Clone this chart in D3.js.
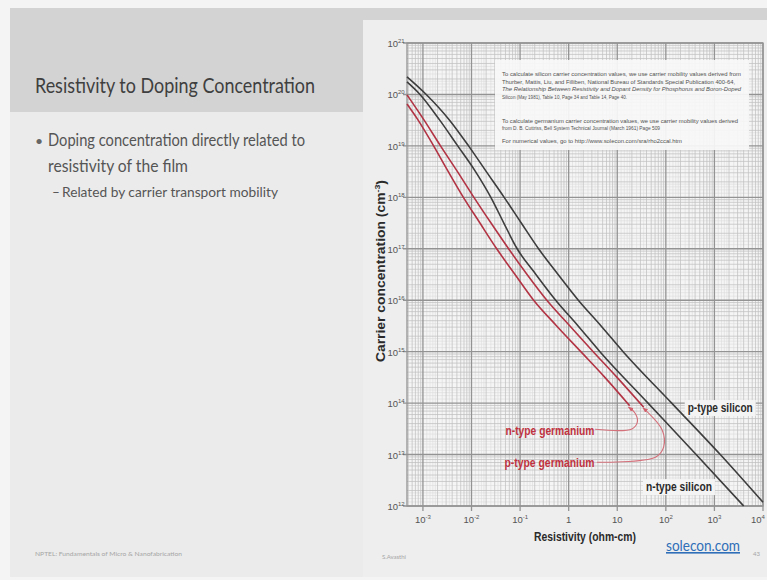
<!DOCTYPE html>
<html>
<head>
<meta charset="utf-8">
<script src="https://cdn.jsdelivr.net/npm/d3@7"></script>
<style>
  html, body { margin: 0; padding: 0; background: #f4f4f4; }
  svg { display: block; }
</style>
</head>
<body>
<div id="slide"></div>
<script>
// Resistivity vs carrier concentration (log-log)

// resistivity in ohm-cm, concentration in cm^-3
const pSiRho = [4.7e-4, 1.17e-3, 3.5e-3, 8.7e-3, 2.0e-2, 4.7e-2, 0.105, 0.24, 0.6, 1.58, 4.6, 13.2, 132, 1320, 1e4];
const pSiConc = [2.2e20, 1e20, 3.2e19, 1e19, 3.2e18, 1e18, 3.2e17, 1e17, 3.2e16, 1e16, 3.2e15, 1e15, 1e14, 1e13, 1.18e12];

const nSiRho = [4.7e-4, 8.7e-4, 2.2e-3, 5.2e-3, 1.2e-2, 2.5e-2, 4.6e-2, 8.7e-2, 0.21, 0.54, 1.55, 4.4, 43, 420, 4000];
const nSiConc = [1.75e20, 1e20, 3.2e19, 1e19, 3.2e18, 1e18, 3.2e17, 1e17, 3.2e16, 1e16, 3.2e15, 1e15, 1e14, 1e13, 1e12];

const pGeRho = [4.7e-4, 1.05e-3, 2.3e-3, 5.1e-3, 1.12e-2, 2.5e-2, 5.8e-2, 0.138, 0.355, 1.05, 3.2, 9.8, 35];
const pGeConc = [9.8e19, 3.2e19, 1e19, 3.2e18, 1e18, 3.2e17, 1e17, 3.2e16, 1e16, 3.2e15, 1e15, 3.2e14, 8.3e13];

const nGeRho = [4.7e-4, 7.9e-4, 1.66e-3, 3.3e-3, 6.8e-3, 1.48e-2, 3.3e-2, 7.8e-2, 0.19, 0.56, 1.78, 5.5, 18];
const nGeConc = [6.5e19, 3.2e19, 1e19, 3.2e18, 1e18, 3.2e17, 1e17, 3.2e16, 1e16, 3.2e15, 1e15, 3.2e14, 8.9e13];

// leader lines from the germanium labels to the curve ends
const nGeLeaderRho = [3.5, 20, 26, 23.5, 17];
const nGeLeaderConc = [3.1e13, 3.15e13, 4.3e13, 6.3e13, 8.4e13];
const pGeLeaderRho = [3.8, 61, 90, 84, 34];
const pGeLeaderConc = [7.1e12, 8.9e12, 1.4e13, 3e13, 8.1e13];

const xTickValues = [1e-3, 1e-2, 1e-1, 1, 10, 1e2, 1e3, 1e4];
const xTickBase = ['10', '10', '10', '1', '10', '10', '10', '10'];
const xTickExp = ['-3', '-2', '-1', '', '', '2', '3', '4'];
const yTickExp = [12, 13, 14, 15, 16, 17, 18, 19, 20, 21];

const noteLines = [
  'To calculate silicon carrier concentration values, we use carrier mobility values derived from',
  'Thurber, Mattis, Liu, and Filliben, National Bureau of Standards Special Publication 400-64,',
  'The Relationship Between Resistivity and Dopant Density for Phosphorus and Boron-Doped',
  'Silicon (May 1981), Table 10, Page 34 and Table 14, Page 40.',
  'To calculate germanium carrier concentration values, we use carrier mobility values derived',
  'from D. B. Cuttriss, Bell System Technical Journal (March 1961) Page 509',
  'For numerical values, go to http://www.solecon.com/sra/rho2ccal.htm'
];

const width = 767, height = 580;

const svg = d3.select('#slide')
  .append('svg')
  .attr('width', width)
  .attr('height', height);

// slide background
svg.append('rect').attr('x', 10).attr('y', 8).attr('width', 757).attr('height', 569).attr('fill', '#ebebeb');
svg.append('rect').attr('x', 10).attr('y', 8).attr('width', 757).attr('height', 104).attr('fill', '#d3d3d3');
svg.append('rect').attr('x', 363).attr('y', 20).attr('width', 404).attr('height', 557).attr('fill', '#eeeeee');

// slide text
const textFont = 'Lato, "Open Sans", sans-serif';
svg.append('text')
  .attr('x', 35).attr('y', 93)
  .attr('font-family', textFont).attr('font-size', 22)
  .attr('fill', '#3f3f3f')
  .attr('textLength', 280).attr('lengthAdjust', 'spacingAndGlyphs')
  .text('Resistivity to Doping Concentration');

svg.append('text').attr('x', 35).attr('y', 146)
  .attr('font-family', textFont).attr('font-size', 14).attr('fill', '#666').text('•');
svg.append('text')
  .attr('x', 48).attr('y', 146)
  .attr('font-family', textFont).attr('font-size', 16.5).attr('fill', '#555')
  .attr('textLength', 257).attr('lengthAdjust', 'spacingAndGlyphs')
  .text('Doping concentration directly related to');
svg.append('text')
  .attr('x', 48).attr('y', 172)
  .attr('font-family', textFont).attr('font-size', 16.5).attr('fill', '#555')
  .attr('textLength', 140).attr('lengthAdjust', 'spacingAndGlyphs')
  .text('resistivity of the film');
svg.append('text')
  .attr('x', 52).attr('y', 197)
  .attr('font-family', textFont).attr('font-size', 13.5).attr('fill', '#555')
  .text('–');
svg.append('text')
  .attr('x', 62).attr('y', 197)
  .attr('font-family', textFont).attr('font-size', 13.5).attr('fill', '#555')
  .attr('textLength', 216).attr('lengthAdjust', 'spacingAndGlyphs')
  .text('Related by carrier transport mobility');

// footer
svg.append('text').attr('x', 35).attr('y', 556)
  .attr('font-family', textFont).attr('font-size', 6).attr('fill', '#a5a5a5')
  .attr('textLength', 147).attr('lengthAdjust', 'spacingAndGlyphs')
  .text('NPTEL: Fundamentals of Micro & Nanofabrication');
svg.append('text').attr('x', 382).attr('y', 559)
  .attr('font-family', textFont).attr('font-size', 6).attr('fill', '#a5a5a5')
  .text('S.Avasthi');
svg.append('text').attr('x', 760).attr('y', 556).attr('text-anchor', 'end')
  .attr('font-family', textFont).attr('font-size', 6).attr('fill', '#a5a5a5')
  .text('43');

// chart
const plot = { left: 407, right: 763, top: 43, bottom: 506 };

const x = d3.scaleLog()
  .domain([4.7e-4, 1e4])
  .range([plot.left, plot.right]);

const y = d3.scaleLog()
  .domain([1e12, 1e21])
  .range([plot.bottom, plot.top]);

const g = svg.append('g');

g.append('rect')
  .attr('x', plot.left).attr('y', plot.top)
  .attr('width', plot.right - plot.left).attr('height', plot.bottom - plot.top)
  .attr('fill', '#f5f5f5');

// grid: sub-minor, minor, major
const subMult = [1.2, 1.4, 1.6, 1.8, 2.5, 3.5];
function subTicks(scale) {
  const [d0, d1] = scale.domain();
  const out = [];
  for (let e = Math.floor(Math.log10(d0)); e < Math.ceil(Math.log10(d1)); e++) {
    subMult.forEach(m => {
      const v = m * Math.pow(10, e);
      if (v > d0 && v < d1) out.push(v);
    });
  }
  return out;
}
const isMajor = v => Math.abs(Math.log10(v) - Math.round(Math.log10(v))) < 1e-6;

const gridColors = { sub: '#dcdcdc', minor: '#c0c0c0', major: '#939393' };

g.append('g').selectAll('line')
  .data(subTicks(x))
  .join('line')
  .attr('x1', d => x(d)).attr('x2', d => x(d))
  .attr('y1', plot.top).attr('y2', plot.bottom)
  .attr('stroke', gridColors.sub).attr('stroke-width', 0.6);

g.append('g').selectAll('line')
  .data(subTicks(y))
  .join('line')
  .attr('y1', d => y(d)).attr('y2', d => y(d))
  .attr('x1', plot.left).attr('x2', plot.right)
  .attr('stroke', gridColors.sub).attr('stroke-width', 0.6);

g.append('g').selectAll('line')
  .data(x.ticks().filter(d => !isMajor(d)))
  .join('line')
  .attr('x1', d => x(d)).attr('x2', d => x(d))
  .attr('y1', plot.top).attr('y2', plot.bottom)
  .attr('stroke', gridColors.minor).attr('stroke-width', 0.75);

g.append('g').selectAll('line')
  .data(y.ticks().filter(d => !isMajor(d)))
  .join('line')
  .attr('y1', d => y(d)).attr('y2', d => y(d))
  .attr('x1', plot.left).attr('x2', plot.right)
  .attr('stroke', gridColors.minor).attr('stroke-width', 0.75);

g.append('g').selectAll('line')
  .data(xTickValues)
  .join('line')
  .attr('x1', d => x(d)).attr('x2', d => x(d))
  .attr('y1', plot.top).attr('y2', plot.bottom + 5)
  .attr('stroke', gridColors.major).attr('stroke-width', 1.3);

g.append('g').selectAll('line')
  .data(yTickExp.map(e => Math.pow(10, e)))
  .join('line')
  .attr('y1', d => y(d)).attr('y2', d => y(d))
  .attr('x1', plot.left - 4).attr('x2', plot.right)
  .attr('stroke', gridColors.major).attr('stroke-width', 1.4);

g.append('rect')
  .attr('x', plot.left).attr('y', plot.top)
  .attr('width', plot.right - plot.left).attr('height', plot.bottom - plot.top)
  .attr('fill', 'none').attr('stroke', '#939393').attr('stroke-width', 1.3);

// tick labels
const tickFont = '"Liberation Sans Narrow", "Liberation Sans", Arial, sans-serif';
const xLab = g.append('g').selectAll('text')
  .data(xTickValues)
  .join('text')
  .attr('x', d => Math.min(x(d), 758)).attr('y', 523)
  .attr('text-anchor', 'middle')
  .attr('font-family', tickFont).attr('font-size', 9.5).attr('fill', '#555');
xLab.append('tspan').text((d, i) => xTickBase[i]);
xLab.append('tspan')
  .attr('dy', -4).attr('font-size', 6)
  .text((d, i) => xTickExp[i]);

const yLab = g.append('g').selectAll('text')
  .data(yTickExp)
  .join('text')
  .attr('x', plot.left - 9).attr('y', d => y(Math.pow(10, d)) + 4)
  .attr('text-anchor', 'end')
  .attr('font-family', tickFont).attr('font-size', 9.5).attr('fill', '#555')
  .text('10');
yLab.append('tspan')
  .attr('x', plot.left - 9).attr('dy', -4).attr('text-anchor', 'start')
  .attr('font-size', 6)
  .text(d => d);

// axis titles
svg.append('text')
  .attr('x', 585).attr('y', 541)
  .attr('text-anchor', 'middle')
  .attr('font-family', tickFont).attr('font-weight', 'bold')
  .attr('font-size', 12.5).attr('fill', '#2a2a2a')
  .attr('textLength', 102).attr('lengthAdjust', 'spacingAndGlyphs')
  .text('Resistivity (ohm-cm)');

const yTitle = svg.append('text')
  .attr('transform', 'translate(385,271) rotate(-90)')
  .attr('text-anchor', 'middle')
  .attr('font-family', tickFont).attr('font-weight', 'bold')
  .attr('font-size', 12.5).attr('fill', '#2a2a2a')
  .attr('textLength', 182).attr('lengthAdjust', 'spacingAndGlyphs');
yTitle.append('tspan').text('Carrier concentration (cm');
yTitle.append('tspan').attr('dy', -5).attr('font-size', 8).text('-3');
yTitle.append('tspan').attr('dy', 5).text(')');

// note box
const noteBox = g.append('g');
noteBox.append('rect')
  .attr('x', 495).attr('y', 60).attr('width', 254).attr('height', 90)
  .attr('fill', '#f7f7f7').attr('opacity', 0.93);
const noteY = [76, 83.5, 91, 98.5, 122.5, 130, 142.5];
const noteLen = [239, 233, 239, 125, 236, 158, 180];
noteBox.selectAll('text')
  .data(noteLines)
  .join('text')
  .attr('x', 502).attr('y', (d, i) => noteY[i])
  .attr('font-family', '"Liberation Sans", Arial, sans-serif')
  .attr('font-size', 6.2).attr('fill', '#505050')
  .attr('font-style', (d, i) => i === 2 ? 'italic' : null)
  .attr('textLength', (d, i) => noteLen[i]).attr('lengthAdjust', 'spacingAndGlyphs')
  .text(d => d);

// curves
const line = d3.line()
  .x(d => x(d[0]))
  .y(d => y(d[1]))
  .curve(d3.curveMonotoneX);

const zip = (a, b) => a.map((v, i) => [v, b[i]]);

const series = [
  { name: 'p-type silicon', pts: zip(pSiRho, pSiConc), color: '#3d3d3d' },
  { name: 'n-type silicon', pts: zip(nSiRho, nSiConc), color: '#3d3d3d' },
  { name: 'p-type germanium', pts: zip(pGeRho, pGeConc), color: '#b23444' },
  { name: 'n-type germanium', pts: zip(nGeRho, nGeConc), color: '#b23444' }
];

g.append('g').selectAll('path')
  .data(series)
  .join('path')
  .attr('d', d => line(d.pts))
  .attr('fill', 'none')
  .attr('stroke', d => d.color)
  .attr('stroke-width', 1.6);

// leader lines with small arrowheads
svg.append('defs').append('marker')
  .attr('id', 'tip')
  .attr('viewBox', '0 0 10 10')
  .attr('refX', 9).attr('refY', 5)
  .attr('markerWidth', 5).attr('markerHeight', 5)
  .attr('orient', 'auto')
  .append('path')
  .attr('d', 'M0,1 L10,5 L0,9 z')
  .attr('fill', '#d0606c');

const leaderLine = d3.line()
  .x(d => x(d[0]))
  .y(d => y(d[1]))
  .curve(d3.curveCatmullRom.alpha(0.5));

const leaders = [zip(nGeLeaderRho, nGeLeaderConc), zip(pGeLeaderRho, pGeLeaderConc)];
g.append('g').selectAll('path')
  .data(leaders)
  .join('path')
  .attr('d', d => leaderLine(d))
  .attr('fill', 'none')
  .attr('stroke', '#d4707a')
  .attr('stroke-width', 1.1)
  .attr('marker-end', 'url(#tip)');

// curve labels
const labelFont = '"Liberation Sans Narrow", "Liberation Sans", Arial, sans-serif';
const curveLabels = [
  { text: 'n-type germanium', rho: 3.4, conc: 2.45e13, anchor: 'end', color: '#c0323f', len: 89 },
  { text: 'p-type germanium', rho: 3.4, conc: 5.8e12, anchor: 'end', color: '#c0323f', len: 90 },
  { text: 'p-type silicon', rho: 282, conc: 6.7e13, anchor: 'start', color: '#2a2a2a', len: 65 },
  { text: 'n-type silicon', rho: 39, conc: 1.95e12, anchor: 'start', color: '#2a2a2a', len: 66 }
];

const lab = g.append('g').selectAll('g')
  .data(curveLabels)
  .join('g');

lab.filter(d => d.anchor === 'start')
  .append('rect')
  .attr('x', d => x(d.rho) - 3)
  .attr('y', d => y(d.conc) - 12)
  .attr('width', d => d.len + 6)
  .attr('height', 16)
  .attr('fill', '#f4f4f4');

lab.append('text')
  .attr('x', d => x(d.rho))
  .attr('y', d => y(d.conc))
  .attr('text-anchor', d => d.anchor)
  .attr('font-family', labelFont)
  .attr('font-weight', 'bold')
  .attr('font-size', 12.5)
  .attr('fill', d => d.color)
  .attr('textLength', d => d.len)
  .attr('lengthAdjust', 'spacingAndGlyphs')
  .text(d => d.text);

// source link
svg.append('text')
  .attr('x', 703).attr('y', 551)
  .attr('text-anchor', 'middle')
  .attr('font-family', textFont).attr('font-size', 16)
  .attr('fill', '#2f6eb8')
  .attr('text-decoration', 'underline')
  .attr('textLength', 74).attr('lengthAdjust', 'spacingAndGlyphs')
  .text('solecon.com');
</script>
</body>
</html>
